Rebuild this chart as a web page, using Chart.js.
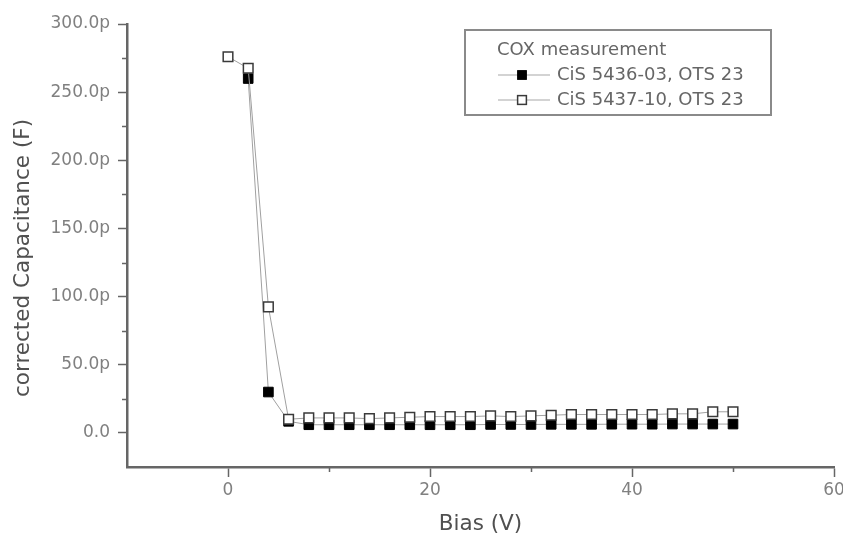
<!DOCTYPE html>
<html>
<head>
<meta charset="utf-8">
<title>COX measurement</title>
<script src="https://cdn.jsdelivr.net/npm/chart.js@4.4.1/dist/chart.umd.min.js"></script>
<style>
    html, body { margin: 0; padding: 0; background: #fff; }
    canvas { display: block; }
</style>
</head>
<body>
<canvas id="coxChart" width="843" height="539"></canvas>
<script>
// bias sweep in V, capacitance in pF
const bias = [0, 2, 4, 6, 8, 10, 12, 14, 16, 18, 20, 22, 24, 26, 28, 30, 32, 34, 36, 38, 40, 42, 44, 46, 48, 50];
const cis5436 = [null, 260, 30, 8.5, 6, 6, 6, 6, 6, 6, 6, 6, 6, 6.2, 6.2, 6.2, 6.3, 6.3, 6.3, 6.4, 6.4, 6.4, 6.5, 6.5, 6.5, 6.5];
const cis5437 = [276, 267.5, 92.5, 10, 11, 11, 11, 10.5, 11, 11.5, 12, 12, 12, 12.5, 12, 12.5, 13, 13.5, 13.5, 13.5, 13.5, 13.5, 14, 14, 15.5, 15.5];

const seriesLabels = ["CiS 5436-03, OTS 23", "CiS 5437-10, OTS 23"];
const legendTitle = "COX measurement";

const xTicks = [0, 20, 40, 60];
const xMinor = [10, 30, 50];
const yTicks = [0, 50, 100, 150, 200, 250, 300];
const yMinor = [25, 75, 125, 175, 225, 275];

const fuente = '"DejaVu Sans", sans-serif';
const axisColor = "#666";

function toPoints(ys) {
    const pts = [];
    ys.forEach((v, i) => {
        if (v !== null) pts.push({ x: bias[i], y: v });
    });
    return pts;
}

// minor ticks, rotated y title and the boxed legend inside the plot
const extras = {
    id: "extras",
    afterDraw(chart) {
        const ctx = chart.ctx;
        const xs = chart.scales.x;
        const ys = chart.scales.y;
        const area = chart.chartArea;
        ctx.save();

        ctx.strokeStyle = axisColor;
        ctx.lineWidth = 1.5;
        ctx.beginPath();
        yMinor.forEach(v => {
            const py = Math.round(ys.getPixelForValue(v)) + 0.5;
            ctx.moveTo(area.left - 5, py);
            ctx.lineTo(area.left, py);
        });
        xMinor.forEach(v => {
            const px = Math.round(xs.getPixelForValue(v)) + 0.5;
            ctx.moveTo(px, area.bottom);
            ctx.lineTo(px, area.bottom + 5);
        });
        ctx.stroke();

        ctx.save();
        ctx.translate(23, 258);
        ctx.rotate(-Math.PI / 2);
        ctx.font = "21.5px " + fuente;
        ctx.fillStyle = "#505050";
        ctx.textAlign = "center";
        ctx.textBaseline = "middle";
        ctx.fillText("corrected Capacitance (F)", 0, 0);
        ctx.restore();

        // legend
        ctx.strokeStyle = "#8a8a8a";
        ctx.lineWidth = 2;
        ctx.strokeRect(465, 30, 306, 85);

        ctx.font = "18px " + fuente;
        ctx.fillStyle = "#666";
        ctx.textAlign = "left";
        ctx.textBaseline = "middle";
        ctx.fillText(legendTitle, 497, 50);

        chart.data.datasets.forEach((ds, i) => {
            const y = 75 + i * 25;
            ctx.strokeStyle = "#c4c4c4";
            ctx.lineWidth = 1.5;
            ctx.beginPath();
            ctx.moveTo(498, y);
            ctx.lineTo(550, y);
            ctx.stroke();

            const s = 2 * Math.SQRT1_2 * (ds.pointRadius - 0.6);
            ctx.fillStyle = ds.pointBackgroundColor;
            ctx.fillRect(522 - s / 2, y - s / 2, s, s);
            ctx.strokeStyle = ds.pointBorderColor;
            ctx.lineWidth = ds.pointBorderWidth;
            ctx.strokeRect(522 - s / 2, y - s / 2, s, s);

            ctx.fillStyle = "#666";
            ctx.fillText(ds.label, 557, y);
        });

        ctx.restore();
    }
};

const canvas = document.getElementById("coxChart");

new Chart(canvas, {
    type: "scatter",
    data: {
        datasets: [
            {
                label: seriesLabels[0],
                data: toPoints(cis5436),
                showLine: true,
                borderColor: "#a0a0a0",
                borderWidth: 1,
                pointStyle: "rect",
                pointRadius: 6.8,
                pointBackgroundColor: "#000",
                pointBorderColor: "#000",
                pointBorderWidth: 1,
                order: 1
            },
            {
                label: seriesLabels[1],
                data: toPoints(cis5437),
                showLine: true,
                borderColor: "#a0a0a0",
                borderWidth: 1,
                pointStyle: "rect",
                pointRadius: 6.8,
                pointBackgroundColor: "#fff",
                pointBorderColor: "#3a3a3a",
                pointBorderWidth: 1.5,
                order: 0
            }
        ]
    },
    options: {
        responsive: false,
        animation: false,
        devicePixelRatio: 1,
        layout: { padding: { top: 24, right: 9, bottom: 0, left: 0 } },
        scales: {
            x: {
                type: "linear",
                min: -10,
                max: 60,
                afterBuildTicks: s => { s.ticks = xTicks.map(v => ({ value: v })); },
                afterFit: s => { s.height = 72; s.paddingLeft = 0; s.paddingRight = 0; },
                ticks: {
                    color: "#808080",
                    font: { family: fuente, size: 17 },
                    padding: 3,
                    maxRotation: 0,
                    callback: v => String(v)
                },
                grid: {
                    drawOnChartArea: false,
                    tickLength: 10,
                    tickColor: axisColor,
                    tickWidth: 1.5
                },
                border: { color: axisColor, width: 2.5 },
                title: {
                    display: true,
                    text: "Bias (V)",
                    color: "#505050",
                    font: { family: fuente, size: 21.5 },
                    padding: { top: 0, bottom: 2 }
                }
            },
            y: {
                type: "linear",
                min: -25,
                max: 300,
                afterBuildTicks: s => { s.ticks = yTicks.map(v => ({ value: v })); },
                afterFit: s => { s.width = 127; s.paddingTop = 0; s.paddingBottom = 0; },
                ticks: {
                    color: "#808080",
                    font: { family: fuente, size: 17 },
                    padding: 8,
                    callback: v => v === 0 ? "0.0" : v.toFixed(1) + "p"
                },
                grid: {
                    drawOnChartArea: false,
                    tickLength: 9,
                    tickColor: axisColor,
                    tickWidth: 1.5
                },
                border: { color: axisColor, width: 2.5 }
            }
        },
        plugins: {
            legend: { display: false },
            tooltip: { enabled: false }
        }
    },
    plugins: [extras]
});
</script>
</body>
</html>
